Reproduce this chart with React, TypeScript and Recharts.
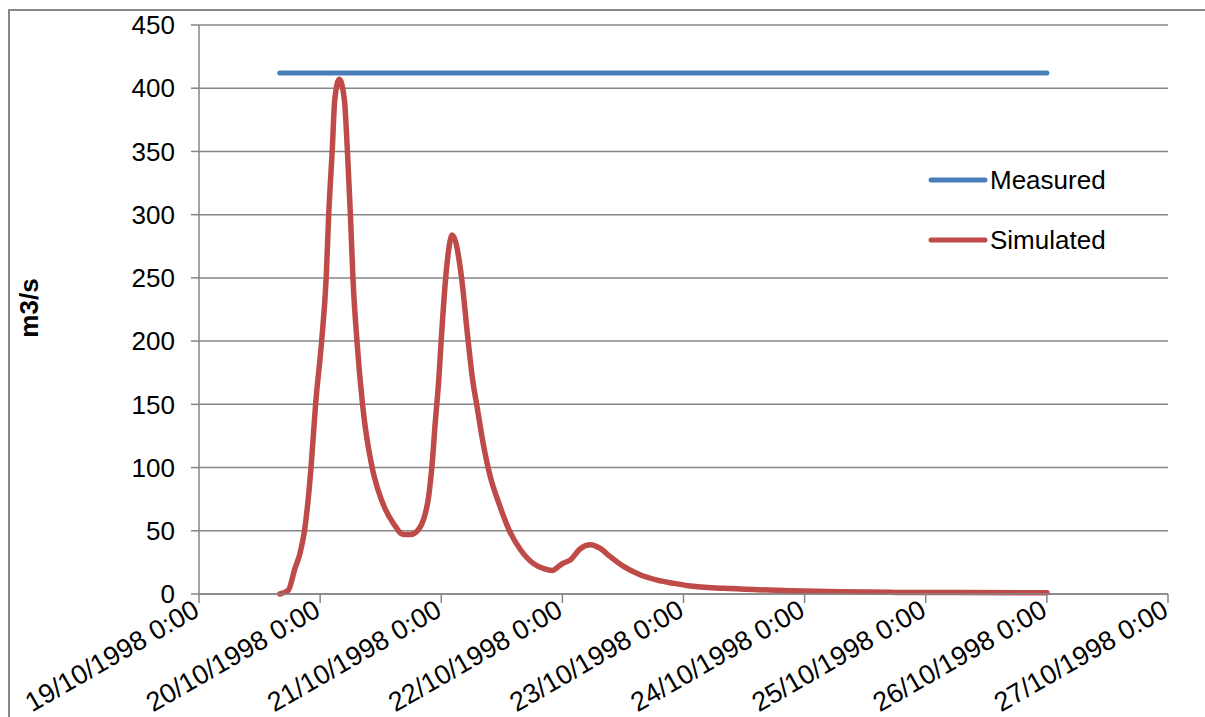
import { LineChart, Line, XAxis, YAxis, CartesianGrid } from 'recharts'

// hours since 19/10/1998 0:00
const simHours = [
  16, 17.7, 19.0, 20.0, 20.9, 22.2, 23.1, 24.3, 25.2, 25.7, 26.4, 26.9, 27.8, 28.8, 29.4, 30.0,
  30.5, 31.3, 32.4, 34.3, 35.5, 36.8, 38.5, 40.5, 41.9, 43.5, 44.5, 45.5, 46.2, 46.8, 47.5,
  48.0, 48.9, 50.2, 52.0, 53.2, 54.2, 55.1, 56.4, 57.7, 59.4, 61.4, 63.7, 66.3, 68.3, 70.0,
  71.0, 72.0, 73.6, 75.6, 77.5, 79.5, 81.5, 84.2, 87.5, 90.8, 94.1, 97.4, 104.0, 110.6, 117.2,
  127.1, 137.1, 151, 168,
]
const simFlow = [
  0, 3, 20, 32, 50, 100, 150, 200, 250, 300, 351, 391, 407, 391, 351, 300,
  250, 200, 150, 100, 82, 68, 56, 47, 47, 51, 59, 77, 103, 135, 169,
  201, 251, 284, 251, 205, 170, 148, 117, 93, 72, 51, 35, 24, 20, 18.5,
  21, 24, 27, 36, 39, 36, 29.5, 21.6, 15, 11, 8.4, 6.3, 4.5, 3.4, 2.6,
  1.8, 1.3, 1.1, 0.9,
]
const measuredHours = [16, 168]
const measuredFlow = [412, 412]

const xTicks = [0, 24, 48, 72, 96, 120, 144, 168, 192]
const xTickLabels = [
  '19/10/1998 0:00',
  '20/10/1998 0:00',
  '21/10/1998 0:00',
  '22/10/1998 0:00',
  '23/10/1998 0:00',
  '24/10/1998 0:00',
  '25/10/1998 0:00',
  '26/10/1998 0:00',
  '27/10/1998 0:00',
]
const yTicks = [0, 50, 100, 150, 200, 250, 300, 350, 400, 450]

const BLUE = '#4a7ebb'
const RED = '#be4b48'
const GRID = '#868686'
const FONT = '"Liberation Sans", Arial, sans-serif'

const simData = simHours.map((h, i) => ({ h, v: simFlow[i] }))
const measuredData = measuredHours.map((h, i) => ({ h, v: measuredFlow[i] }))

const legendItems = [
  { name: 'Measured', color: BLUE },
  { name: 'Simulated', color: RED },
]

function DateTick({ x, y, payload }: any) {
  const label = xTickLabels[xTicks.indexOf(payload.value)] ?? ''
  return (
    <g transform={`translate(${x + 2},${y + 12})`}>
      <text textAnchor="end" transform="rotate(-30)" fontSize={27} fill="#000">
        {label}
      </text>
    </g>
  )
}

function LegendBox() {
  return (
    <div style={{ position: 'absolute', left: 928, top: 165 }}>
      {legendItems.map((it) => (
        <div
          key={it.name}
          style={{ display: 'flex', alignItems: 'center', height: 30, marginBottom: 30 }}
        >
          <svg width={60} height={10}>
            <line x1={3} y1={5} x2={57} y2={5} stroke={it.color} strokeWidth={5} strokeLinecap="round" />
          </svg>
          <span style={{ fontSize: 26, color: '#000', marginLeft: 2, fontFamily: FONT }}>{it.name}</span>
        </div>
      ))}
    </div>
  )
}

export default function App() {
  return (
    <div
      style={{
        position: 'relative',
        width: 1205,
        height: 717,
        overflow: 'hidden',
        fontFamily: FONT,
        background: '#fff',
      }}
    >
      <style>{'body{margin:0;overflow:hidden}'}</style>
      <div
        style={{
          position: 'absolute',
          left: 8,
          top: 9,
          width: 1300,
          height: 800,
          borderTop: `2px solid ${GRID}`,
          borderLeft: `2px solid ${GRID}`,
        }}
      />
      <div style={{ position: 'absolute', left: 0, top: 0 }}>
        <LineChart width={1205} height={717} margin={{ top: 25, right: 37, left: 0, bottom: 0 }}>
          <CartesianGrid vertical={false} stroke={GRID} strokeWidth={1.5} />
          <XAxis
            dataKey="h"
            type="number"
            domain={[0, 192]}
            ticks={xTicks}
            interval={0}
            height={123}
            tickSize={9}
            tickMargin={0}
            axisLine={{ stroke: GRID, strokeWidth: 1.5 }}
            tickLine={{ stroke: GRID, strokeWidth: 1.5 }}
            tick={<DateTick />}
          />
          <YAxis
            type="number"
            domain={[0, 450]}
            ticks={yTicks}
            interval={0}
            width={199}
            tickSize={8}
            tickMargin={16}
            axisLine={{ stroke: GRID, strokeWidth: 1.5 }}
            tickLine={{ stroke: GRID, strokeWidth: 1.5 }}
            tick={{ fontSize: 26, fill: '#000' }}
            label={{
              content: () => (
                <text
                  x={29}
                  y={308}
                  transform="rotate(-90 29 308)"
                  textAnchor="middle"
                  dominantBaseline="central"
                  fontSize={26}
                  fontWeight="bold"
                  fill="#000"
                >
                  m3/s
                </text>
              ),
            }}
          />
          <Line
            data={measuredData}
            dataKey="v"
            name="Measured"
            type="linear"
            stroke={BLUE}
            strokeWidth={5}
            strokeLinecap="round"
            dot={false}
            activeDot={false}
            isAnimationActive={false}
          />
          <Line
            data={simData}
            dataKey="v"
            name="Simulated"
            type="monotone"
            stroke={RED}
            strokeWidth={5.5}
            strokeLinecap="round"
            strokeLinejoin="round"
            dot={false}
            activeDot={false}
            isAnimationActive={false}
          />
        </LineChart>
      </div>
      <LegendBox />
    </div>
  )
}
